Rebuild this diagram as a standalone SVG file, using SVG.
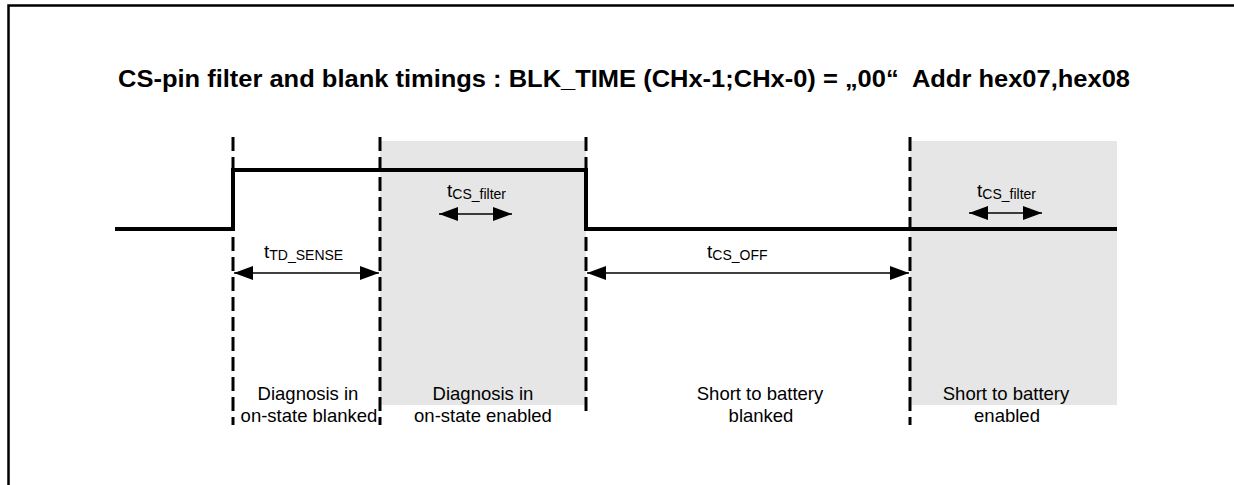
<svg xmlns="http://www.w3.org/2000/svg" width="1234" height="485" viewBox="0 0 1234 485">
<style>
.frame{fill:none;stroke:#000;stroke-width:2.5}
.sig{fill:none;stroke:#000;stroke-width:4}
.dash{fill:none;stroke:#000;stroke-width:3;stroke-dasharray:14 6}
.shade{fill:#e6e6e6}
.dim{fill:none;stroke:#000;stroke-width:1.5}
.title{font-family:"Liberation Sans",Arial,sans-serif;font-weight:bold;font-size:23px;fill:#000}
.lbl{font-family:"Liberation Sans",Arial,sans-serif;font-size:19px;fill:#000}
.sub{font-size:14px}
.cap{font-family:"Liberation Sans",Arial,sans-serif;font-size:18.5px;fill:#000;text-anchor:middle}
</style>
<defs>
<marker id="ah" markerUnits="userSpaceOnUse" markerWidth="20" markerHeight="14" refX="19" refY="7" orient="auto-start-reverse">
<path d="M0,0 L19,7 L0,14 Z" fill="#000"/>
</marker>
</defs>
<rect width="1234" height="485" fill="#fff"/>
<g id="frame">
<path class="frame" d="M8.5,485 V5.5 H1234"/>
</g>
<g id="title">
<text class="title" x="118" y="87" textLength="1012" lengthAdjust="spacingAndGlyphs" xml:space="preserve">CS-pin filter and blank timings : BLK_TIME (CHx-1;CHx-0) = „00“  Addr hex07,hex08</text>
</g>
<g id="regions">
<rect id="shade1" class="shade" x="380" y="141" width="206" height="264"/>
<rect id="shade2" class="shade" x="910" y="141" width="207" height="264"/>
</g>
<g id="signal">
<path class="sig" d="M115,229 H233 V170 H586 V229 H1117"/>
</g>
<g id="markers">
<line class="dash" x1="233" y1="137" x2="233" y2="425"/>
<line class="dash" x1="380" y1="137" x2="380" y2="425"/>
<line class="dash" x1="586" y1="137" x2="586" y2="415"/>
<line class="dash" x1="910" y1="137" x2="910" y2="425"/>
</g>
<g id="connectors">
<line class="dim" x1="234" y1="273" x2="379" y2="273" marker-start="url(#ah)" marker-end="url(#ah)"/>
<line class="dim" x1="587" y1="273" x2="909" y2="273" marker-start="url(#ah)" marker-end="url(#ah)"/>
<line class="dim" x1="439" y1="214" x2="512" y2="214" marker-start="url(#ah)" marker-end="url(#ah)"/>
<line class="dim" x1="969" y1="213" x2="1042" y2="213" marker-start="url(#ah)" marker-end="url(#ah)"/>
</g>
<g id="label-td-sense">
<text class="lbl" x="264" y="258">t<tspan class="sub" dy="2">TD_SENSE</tspan></text>
</g>
<g id="label-cs-off">
<text class="lbl" x="707" y="258">t<tspan class="sub" dy="2">CS_OFF</tspan></text>
</g>
<g id="label-cs-filter-1">
<text class="lbl" x="447" y="197">t<tspan class="sub" dy="2">CS_filter</tspan></text>
</g>
<g id="label-cs-filter-2">
<text class="lbl" x="977" y="197">t<tspan class="sub" dy="2">CS_filter</tspan></text>
</g>
<g id="cap1">
<text class="cap" x="308" y="400">Diagnosis in</text>
<text class="cap" x="309" y="422">on-state blanked</text>
</g>
<g id="cap2">
<text class="cap" x="483" y="400">Diagnosis in</text>
<text class="cap" x="483" y="422">on-state enabled</text>
</g>
<g id="cap3">
<text class="cap" x="760" y="400">Short to battery</text>
<text class="cap" x="761" y="422">blanked</text>
</g>
<g id="cap4">
<text class="cap" x="1006" y="400">Short to battery</text>
<text class="cap" x="1007" y="422">enabled</text>
</g>
</svg>
